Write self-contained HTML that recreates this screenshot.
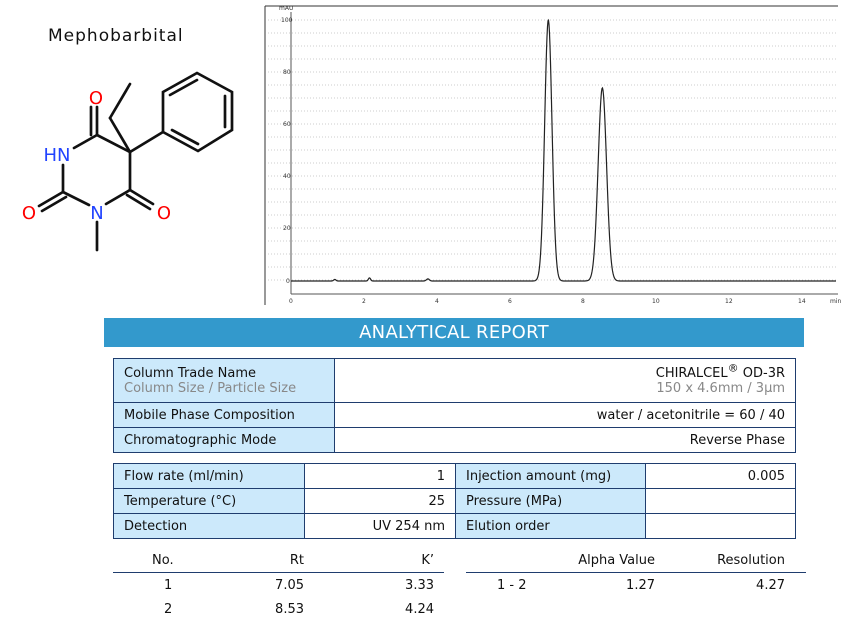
<!DOCTYPE html>
<html><head><meta charset="utf-8"><style>
body{margin:0;width:856px;height:625px;background:#fff;position:relative;overflow:hidden;font-family:"DejaVu Sans","Liberation Sans",sans-serif;font-size:13px;color:#111}
.a{position:absolute}
.banner{left:104px;top:318px;width:700px;height:29px;background:#3399cc;color:#fff;font-size:18px;text-align:center;line-height:30px;letter-spacing:0.3px}
table{position:absolute;border-collapse:collapse}
td{border:1px solid #1f3d6e;padding:0 10px;height:24px;white-space:nowrap}
td.l{background:#cce9fb}
td.r{text-align:right}
.g{color:#888}
</style></head><body>
<div class="a" style="left:48px;top:26px;font-size:17px;letter-spacing:1px">Mephobarbital</div>
<svg class="a" style="left:0;top:0" width="260" height="300">
<g stroke="#111" stroke-width="2.7" fill="none" stroke-linecap="round">
<line x1="97" y1="135" x2="130" y2="152"/>
<line x1="130" y1="152" x2="130" y2="190"/>
<line x1="130" y1="190" x2="106" y2="204"/>
<line x1="89" y1="205" x2="63" y2="192"/>
<line x1="63" y1="192" x2="63" y2="165"/>
<line x1="74" y1="148" x2="97" y2="135"/>
<line x1="97" y1="135" x2="97" y2="107"/>
<line x1="91" y1="135" x2="91" y2="107"/>
<line x1="130" y1="190" x2="153" y2="204"/>
<line x1="127" y1="195" x2="150" y2="209"/>
<line x1="63" y1="192" x2="39" y2="206"/>
<line x1="66" y1="197" x2="42" y2="211"/>
<line x1="97" y1="222" x2="97" y2="250"/>
<line x1="130" y1="152" x2="110" y2="118"/>
<line x1="110" y1="118" x2="130" y2="84"/>
<line x1="130" y1="152" x2="163" y2="132"/>
<polygon points="163,132 163,92 197,73 232,92 232,130 198,151"/>
<line x1="170" y1="95" x2="197" y2="80"/>
<line x1="225" y1="96" x2="225" y2="127"/>
<line x1="172" y1="130" x2="198" y2="144"/>
</g>
<g font-family="DejaVu Sans,sans-serif" font-size="18" text-anchor="middle">
<text x="96" y="104" fill="#f00">O</text>
<text x="57" y="161" fill="#2244ff">HN</text>
<text x="29" y="219" fill="#f00">O</text>
<text x="97" y="219" fill="#2244ff">N</text>
<text x="164" y="219" fill="#f00">O</text>
</g>
</svg>
<svg class="a" style="left:0;top:0" width="856" height="310" id="ch">
<line x1="265" y1="6" x2="838" y2="6" stroke="#333"/>
<line x1="265" y1="6" x2="265" y2="305" stroke="#333"/>
<g stroke="#ccc" stroke-dasharray="1,2" id="grid"></g>
<line x1="291" y1="12" x2="291" y2="294" stroke="#555"/>
<line x1="291" y1="294" x2="838" y2="294" stroke="#555"/>
<g font-size="6" fill="#333" font-family="DejaVu Sans,sans-serif">
<text x="279" y="10">mAU</text>
<text x="281" y="22">100</text><text x="283" y="74">80</text><text x="283" y="126">60</text><text x="283" y="178">40</text><text x="283" y="230">20</text><text x="286" y="283">0</text>
<text x="289" y="303">0</text><text x="362" y="303">2</text><text x="435" y="303">4</text><text x="508" y="303">6</text><text x="581" y="303">8</text><text x="652" y="303">10</text><text x="725" y="303">12</text><text x="798" y="303">14</text><text x="830" y="303">min</text>
</g>
<path id="trace" fill="none" stroke="#222" stroke-width="1.2" d=""/>
</svg>
<script>
(function(){
var g=document.getElementById('grid'),s='';
for(var y=20;y<292;y+=13){s+='<line x1="268" y1="'+y+'" x2="836" y2="'+y+'"/>';}
g.innerHTML=s;
var d='';
for(var x=291;x<=836;x+=0.5){
 var t=(x-291)/36.5;
 var v=100*Math.exp(-Math.pow((t-7.05)/0.1,2)/2)+74*Math.exp(-Math.pow((t-8.53)/0.115,2)/2);
 v+=1.2*Math.exp(-Math.pow((t-2.15)/0.03,2)/2)+0.8*Math.exp(-Math.pow((t-3.75)/0.04,2)/2)+0.6*Math.exp(-Math.pow((t-1.2)/0.03,2)/2);
 var y=281-2.61*v;
 d+=(d?'L':'M')+x.toFixed(1)+' '+y.toFixed(1);
}
document.getElementById('trace').setAttribute('d',d);
})();
</script>
<div class="a banner">ANALYTICAL REPORT</div>
<table style="left:113px;top:358px;width:683px">
<tr><td class="l" style="width:200px;height:43px;line-height:15px">Column Trade Name<br><span class="g">Column Size / Particle Size</span></td><td class="r" style="line-height:15px">CHIRALCEL<sup style="font-size:11px;line-height:0">®</sup> OD-3R<br><span class="g">150 x 4.6mm / 3µm</span></td></tr>
<tr><td class="l">Mobile Phase Composition</td><td class="r">water / acetonitrile = 60 / 40</td></tr>
<tr><td class="l">Chromatographic Mode</td><td class="r">Reverse Phase</td></tr>
</table>
<table style="left:113px;top:463px;width:683px">
<tr><td class="l" style="width:170px">Flow rate (ml/min)</td><td class="r" style="width:130px">1</td><td class="l" style="width:169px">Injection amount (mg)</td><td class="r">0.005</td></tr>
<tr><td class="l">Temperature (°C)</td><td class="r">25</td><td class="l">Pressure (MPa)</td><td class="r"></td></tr>
<tr><td class="l">Detection</td><td class="r">UV 254 nm</td><td class="l">Elution order</td><td class="r"></td></tr>
</table>
<div class="a" style="left:113px;top:572px;width:331px;border-top:1px solid #1f3d6e"></div>
<div class="a" style="left:466px;top:572px;width:340px;border-top:1px solid #1f3d6e"></div>
<div class="a" style="left:152px;top:553px">No.</div>
<div class="a" style="left:234px;top:553px;width:70px;text-align:right">Rt</div>
<div class="a" style="left:384px;top:553px;width:50px;text-align:right">K’</div>
<div class="a" style="left:535px;top:553px;width:120px;text-align:right">Alpha Value</div>
<div class="a" style="left:665px;top:553px;width:120px;text-align:right">Resolution</div>
<div class="a" style="left:164px;top:578px">1</div>
<div class="a" style="left:254px;top:578px;width:50px;text-align:right">7.05</div>
<div class="a" style="left:384px;top:578px;width:50px;text-align:right">3.33</div>
<div class="a" style="left:497px;top:578px">1 - 2</div>
<div class="a" style="left:555px;top:578px;width:100px;text-align:right">1.27</div>
<div class="a" style="left:685px;top:578px;width:100px;text-align:right">4.27</div>
<div class="a" style="left:164px;top:602px">2</div>
<div class="a" style="left:254px;top:602px;width:50px;text-align:right">8.53</div>
<div class="a" style="left:384px;top:602px;width:50px;text-align:right">4.24</div>
</body></html>
